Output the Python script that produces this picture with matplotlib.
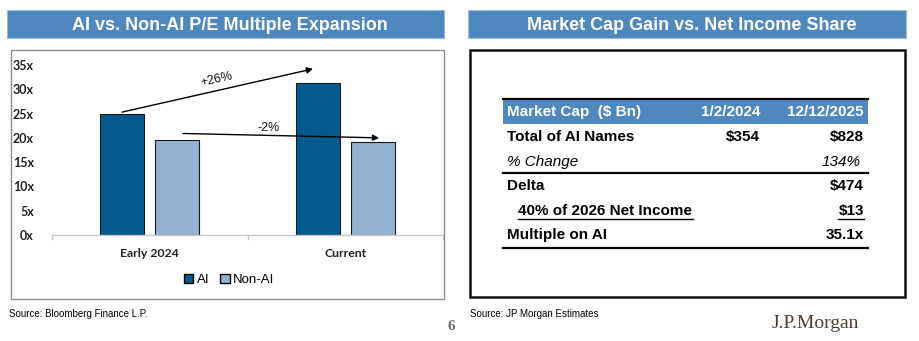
import matplotlib
matplotlib.use("Agg")
import matplotlib.pyplot as plt
from matplotlib.patches import Rectangle
from matplotlib.lines import Line2D
import numpy as np

# ---------------- data ----------------
categories = ["Early 2024", "Current"]
ai_values = [24.9, 31.2]
nonai_values = [19.5, 19.1]
series_names = ["AI", "Non-AI"]
yticks = [0, 5, 10, 15, 20, 25, 30, 35]
ytick_labels = ["0x", "5x", "10x", "15x", "20x", "25x", "30x", "35x"]
ai_change_label = "+26%"
nonai_change_label = "-2%"

left_title = "AI vs. Non-AI P/E Multiple Expansion"
right_title = "Market Cap Gain vs. Net Income Share"
table_header = ["Market Cap  ($ Bn)", "1/2/2024", "12/12/2025"]
table_rows = [
    ["Total of AI Names", "$354", "$828"],
    ["% Change", "", "134%"],
    ["Delta", "", "$474"],
    ["40% of 2026 Net Income", "", "$13"],
    ["Multiple on AI", "", "35.1x"],
]
left_source = "Source: Bloomberg Finance L.P."
right_source = "Source: JP Morgan Estimates"
page_number = "6"
logo_text = "J.P.Morgan"

# ---------------- figure ----------------
W, H = 919, 341
fig = plt.figure(figsize=(W / 100, H / 100), dpi=100)
fig.patch.set_facecolor("white")


def fx(x):
    return x / W


def fy(y):
    return 1 - y / H


def frect(x0, y0, x1, y1, **kw):
    fig.patches.append(Rectangle((fx(x0), fy(y1)), fx(x1) - fx(x0), fy(y0) - fy(y1),
                                 transform=fig.transFigure, figure=fig, **kw))


def fline(x0, y0, x1, y1, **kw):
    fig.lines.append(Line2D([fx(x0), fx(x1)], [fy(y0), fy(y1)],
                            transform=fig.transFigure, figure=fig, **kw))


title_blue = "#4F88BE"
dark_blue = "#035A8F"
light_blue = "#94B1D1"

# title bars
frect(7, 10, 444, 38, facecolor=title_blue, edgecolor="#9DB9D8", lw=0.8)
frect(468, 10, 906, 38, facecolor=title_blue, edgecolor="#9DB9D8", lw=0.8)
fig.text(fx(230), fy(25), left_title, color="white", fontsize=13, fontweight="bold",
         family="Liberation Sans", ha="center", va="center")
fig.text(fx(692), fy(25), right_title, color="white", fontsize=13, fontweight="bold",
         family="Liberation Sans", ha="center", va="center")

# boxes
frect(10.5, 49.5, 443.5, 298.5, facecolor="none", edgecolor="#8C8C8C", lw=1.0)
frect(470.5, 49.5, 905, 297, facecolor="none", edgecolor="#111111", lw=1.8)

# ---------------- bar chart ----------------
ax = fig.add_axes([fx(52), fy(235), fx(443) - fx(52), fy(65) - fy(235)])
x = np.arange(len(categories))
bw = 0.225
off = 0.14
ax.bar(x - off, ai_values, bw, color=dark_blue, edgecolor="#1a1a1a", lw=0.8, label=series_names[0])
ax.bar(x + off, nonai_values, bw, color=light_blue, edgecolor="#1a1a1a", lw=0.8, label=series_names[1])
ax.set_xlim(-0.5, 1.5)
ax.set_ylim(0, 35)
ax.set_yticks(yticks)
ax.set_yticklabels(ytick_labels)
ax.set_xticks([])
for s in ["top", "right", "left"]:
    ax.spines[s].set_visible(False)
ax.spines["bottom"].set_color("#C8C8C8")
ax.spines["bottom"].set_linewidth(1.0)
ax.tick_params(axis="y", length=0, pad=13)
for lab in ax.get_yticklabels():
    lab.set_fontfamily("Lato")
    lab.set_fontweight("bold")
    lab.set_fontsize(9)
    lab.set_color("#222222")
# category separators ticks
for t in [-0.5, 0.5, 1.5]:
    ax.plot([t, t], [0, -0.8], color="#C8C8C8", lw=1.0, clip_on=False)
for i, c in enumerate(categories):
    ax.text(i, -3.9, c, ha="center", va="center", fontsize=8.8, family="Lato",
            fontweight="bold", color="#222222")

# arrows
ax.annotate("", xy=(0.835, 34.2), xytext=(-0.142, 25.3),
            arrowprops=dict(arrowstyle="-|>", color="black", lw=1.0, mutation_scale=9,
                            shrinkA=0, shrinkB=0), annotation_clip=False)
ax.annotate("", xy=(1.173, 20.0), xytext=(0.17, 20.9),
            arrowprops=dict(arrowstyle="-|>", color="black", lw=1.0, mutation_scale=9,
                            shrinkA=0, shrinkB=0), annotation_clip=False)
ax.text(0.34, 32.0, ai_change_label, rotation=12.5, ha="center", va="center",
        fontsize=9, family="Liberation Sans", color="#111111")
ax.text(0.61, 22.1, nonai_change_label, ha="center", va="center",
        fontsize=9, family="Liberation Sans", color="#111111")

# legend
leg = fig.legend(handles=[Rectangle((0, 0), 1, 1, facecolor=dark_blue, edgecolor="black", lw=1.0),
                          Rectangle((0, 0), 1, 1, facecolor=light_blue, edgecolor="black", lw=1.0)],
                 labels=series_names, loc="center", bbox_to_anchor=(fx(229), fy(280)),
                 ncol=2, frameon=False, handlelength=0.75, handleheight=0.75,
                 handletextpad=0.25, columnspacing=0.8,
                 prop=dict(family="Liberation Sans", size=9.5))

# ---------------- table ----------------
frect(503, 99, 868, 124, facecolor=title_blue, edgecolor="none")
fline(503, 99, 868, 99, color="black", lw=1.6)
fline(503, 173, 868, 173, color="black", lw=1.6)
fline(503, 248, 868, 248, color="black", lw=1.6)

tfs = 11
fig.text(fx(507), fy(112), table_header[0], color="white", fontweight="bold", fontsize=tfs,
         family="Liberation Sans", ha="left", va="center")
fig.text(fx(760), fy(112), table_header[1], color="white", fontweight="bold", fontsize=tfs,
         family="Liberation Sans", ha="right", va="center")
fig.text(fx(864), fy(112), table_header[2], color="white", fontweight="bold", fontsize=tfs,
         family="Liberation Sans", ha="right", va="center")

row_y = [137, 162, 186, 211, 235]
row_x = [507, 507, 507, 518, 507]
for r, (yy, xx) in enumerate(zip(row_y, row_x)):
    label, v1, v2 = table_rows[r]
    italic = (r == 1)
    kw = dict(fontsize=tfs, family="Liberation Sans", va="center", color="black",
              fontweight="normal" if italic else "bold", style="italic" if italic else "normal")
    fig.text(fx(xx), fy(yy), label, ha="left", **kw)
    if v1:
        fig.text(fx(760), fy(yy), v1, ha="right", **kw)
    if v2:
        fig.text(fx(864 if not italic else 861), fy(yy), v2, ha="right", **kw)

# underlines for net income row
fline(518, 219, 693, 219, color="black", lw=1.0)
fline(838, 219, 864, 219, color="black", lw=1.0)

# ---------------- footer ----------------
fig.text(fx(9), fy(314), left_source, fontsize=7, family="Liberation Sans",
         ha="left", va="center", color="black")
fig.text(fx(470), fy(314), right_source, fontsize=7, family="Liberation Sans",
         ha="left", va="center", color="black")
fig.text(fx(451), fy(327), page_number, fontsize=11, family="Liberation Serif",
         ha="center", va="center", color="#6E6E6E", fontweight="bold")
fig.text(fx(815), fy(323), logo_text, fontsize=14, family="Liberation Serif",
         ha="center", va="center", color="#4E3B2E")

fig.savefig("out.png", dpi=100)
